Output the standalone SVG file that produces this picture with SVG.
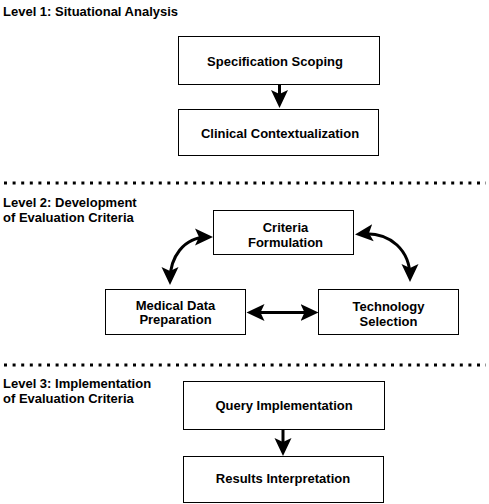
<svg xmlns="http://www.w3.org/2000/svg" width="489" height="504" viewBox="0 0 489 504">
<style>
  .box { fill: #ffffff; stroke: #000000; stroke-width: 1; }
  .lbl { font-family: "Liberation Sans", Arial, Helvetica, sans-serif; font-size: 13px; font-weight: bold; fill: #000000; }
  .mid { text-anchor: middle; }
  .edge { fill: none; stroke: #000000; stroke-width: 3; }
  .sep { fill: none; stroke: #000000; stroke-width: 3; stroke-dasharray: 3 5.6; }
</style>
<defs>
  <marker id="ah" markerUnits="userSpaceOnUse" markerWidth="22" markerHeight="22" viewBox="0 -11 22 22" refX="13" refY="0" orient="auto-start-reverse">
    <path d="M0,-8.5 L18,0 L0,8.5 L4,0 z" fill="#000000"/>
  </marker>
</defs>
<rect width="489" height="504" fill="#ffffff"/>

<g id="separators">
  <line class="sep" x1="4" y1="183" x2="486" y2="183"/>
  <line class="sep" x1="4" y1="365" x2="486" y2="365"/>
</g>

<g id="titles">
  <text class="lbl" x="3" y="16">Level 1: Situational Analysis</text>
  <text class="lbl" x="3" y="207">Level 2: Development</text>
  <text class="lbl" x="3" y="221.5">of Evaluation Criteria</text>
  <text class="lbl" x="3" y="387.5">Level 3: Implementation</text>
  <text class="lbl" x="3" y="402.5">of Evaluation Criteria</text>
</g>

<g id="connectors">
  <path class="edge" d="M279.5,85 L279.5,103" marker-end="url(#ah)"/>
  <path class="edge" d="M170,280 C170,258 183,237 208,237" marker-start="url(#ah)" marker-end="url(#ah)"/>
  <path class="edge" d="M360,234 C392,231 410,252 410,277" marker-start="url(#ah)" marker-end="url(#ah)"/>
  <path class="edge" d="M251.5,312.5 L313.5,312.5" marker-start="url(#ah)" marker-end="url(#ah)"/>
  <path class="edge" d="M283,430 L283,451" marker-end="url(#ah)"/>
</g>

<g id="spec-scoping">
  <rect class="box" x="178.5" y="36.5" width="201" height="48"/>
  <text class="lbl mid" x="275" y="66">Specification Scoping</text>
</g>
<g id="clinical-context">
  <rect class="box" x="178.5" y="109.5" width="200" height="46"/>
  <text class="lbl mid" x="280" y="138">Clinical Contextualization</text>
</g>
<g id="criteria-formulation">
  <rect class="box" x="213.5" y="210.5" width="140" height="44"/>
  <text class="lbl mid" x="285.5" y="232">Criteria</text>
  <text class="lbl mid" x="285.5" y="247">Formulation</text>
</g>
<g id="medical-data">
  <rect class="box" x="105.5" y="289.5" width="140" height="45"/>
  <text class="lbl mid" x="175.5" y="309.5">Medical Data</text>
  <text class="lbl mid" x="175.5" y="323.5">Preparation</text>
</g>
<g id="technology-selection">
  <rect class="box" x="318.5" y="289.5" width="140" height="45"/>
  <text class="lbl mid" x="388.5" y="311">Technology</text>
  <text class="lbl mid" x="388.5" y="326">Selection</text>
</g>
<g id="query-implementation">
  <rect class="box" x="183.5" y="381.5" width="201" height="48"/>
  <text class="lbl mid" x="284" y="410">Query Implementation</text>
</g>
<g id="results-interpretation">
  <rect class="box" x="183.5" y="456.5" width="200" height="46"/>
  <text class="lbl mid" x="283" y="483">Results Interpretation</text>
</g>
</svg>
